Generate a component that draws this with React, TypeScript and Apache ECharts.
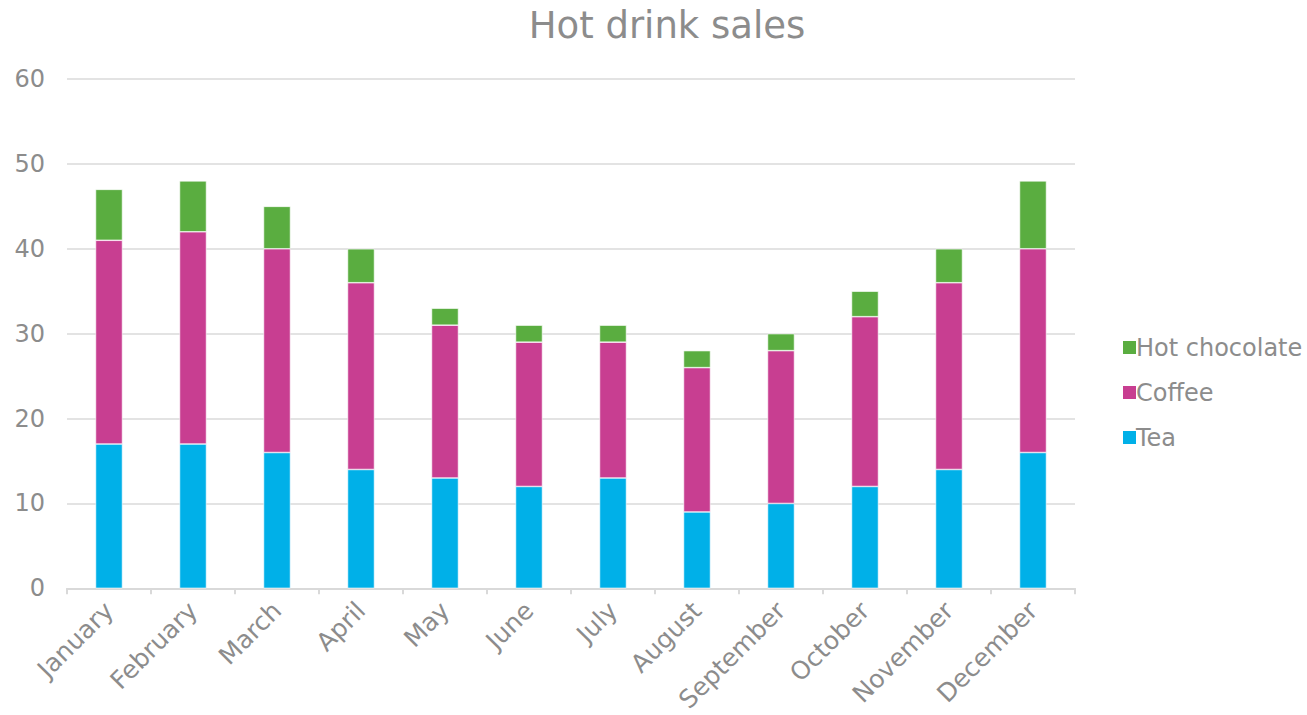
import React, { useEffect, useRef } from "react";
import * as echarts from "echarts";

const months = ["January","February","March","April","May","June","July","August","September","October","November","December"];
const tea = [17,17,16,14,13,12,13,9,10,12,14,16];
const coffee = [24,25,24,22,18,17,16,17,18,20,22,24];
const hotChocolate = [6,6,5,4,2,2,2,2,2,3,4,8];

const FONT = "'DejaVu Sans', Verdana, sans-serif";
const TEXT = "#8c8c8c";

export default function App() {
  const ref = useRef<HTMLDivElement>(null);
  useEffect(() => {
    const chart = echarts.init(ref.current!, null, { renderer: "svg" });
    const mk = (name: string, data: number[], color: string) => ({
      name, type: "bar", stack: "total", data, barWidth: 27,
      itemStyle: { color, borderColor: "#ffffff", borderWidth: 0.6 },
    });
    chart.setOption({
      animation: false,
      textStyle: { fontFamily: FONT },
      title: {
        text: "Hot drink sales", left: 662, top: 2, textAlign: "center",
        textStyle: { color: TEXT, fontSize: 37, fontWeight: "normal", fontFamily: FONT },
      },
      legend: {
        orient: "vertical", left: 1116, top: 330, itemWidth: 15, itemHeight: 15, itemGap: 20,
        data: ["Hot chocolate", "Coffee", "Tea"], icon: "rect",
        textStyle: { color: TEXT, fontSize: 24, fontFamily: FONT, padding: [0, 0, 0, -6], lineHeight: 25 },
      },
      grid: { left: 67, right: 232, top: 79, bottom: 125, containLabel: false },
      xAxis: {
        type: "category", data: months,
        axisLine: { lineStyle: { color: "#d9d9d9", width: 2 } },
        axisTick: { show: true, alignWithLabel: false, length: 6, lineStyle: { color: "#d9d9d9", width: 2 } },
        axisLabel: { rotate: 45, color: TEXT, fontSize: 25, fontFamily: FONT, margin: 18, interval: 0 },
      },
      yAxis: {
        type: "value", min: 0, max: 60, interval: 10,
        axisLine: { show: false }, axisTick: { show: false },
        splitLine: { lineStyle: { color: "#e3e3e3", width: 2 } },
        axisLabel: { color: TEXT, fontSize: 24, fontFamily: FONT, margin: 22 },
      },
      series: [
        mk("Tea", tea, "#00b0e8"),
        mk("Coffee", coffee, "#c83e91"),
        mk("Hot chocolate", hotChocolate, "#5aad40"),
      ],
    });
    return () => chart.dispose();
  }, []);
  return <div ref={ref} style={{ width: 1307, height: 715, position: "absolute", left: 0, top: 0 }} />;
}
